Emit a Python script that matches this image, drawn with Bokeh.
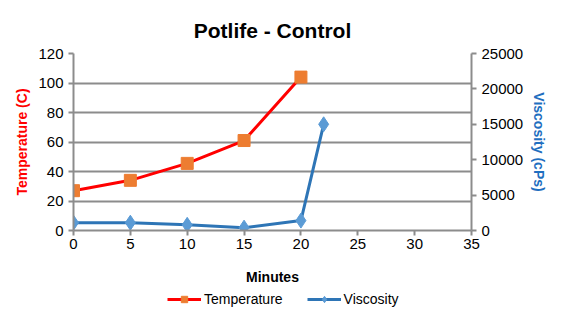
from bokeh.plotting import figure
from bokeh.layouts import column
from bokeh.models import Range1d, LinearAxis, Legend, LegendItem, FixedTicker
from bokeh.embed import file_html
from bokeh.resources import INLINE

# Data
minutes_temp = [0, 5, 10, 15, 20]
temperature = [27, 34, 45.5, 61, 104]
minutes_visc = [0, 5, 10, 15, 20, 22]
viscosity = [1100, 1100, 800, 400, 1400, 15000]
x_ticks = [0, 5, 10, 15, 20, 25, 30, 35]
temp_ticks = [0, 20, 40, 60, 80, 100, 120]
visc_ticks = [0, 5000, 10000, 15000, 20000, 25000]

FONT = "Liberation Sans"
GRID = "#8c8c8c"
TEMP_LINE = dict(line_color="#ff0000", line_width=3)
TEMP_MARK = dict(marker="square", size=12, fill_color="#ed7d31", line_color="#ed7d31")
VISC_LINE = dict(line_color="#2e75b6", line_width=3)
VISC_MARK = dict(marker="diamond", size=15, fill_color="#5b9bd5", line_color="#5b9bd5")

p = figure(width=561, height=287, output_backend="svg", toolbar_location=None,
           x_range=Range1d(0, 35), y_range=Range1d(0, 120),
           min_border_left=73, min_border_right=90, min_border_top=53, min_border_bottom=57,
           title="Potlife - Control")
p.title.align = "center"
p.title.text_font = FONT
p.title.text_font_size = "21px"
p.title.text_font_style = "bold"
p.title.text_color = "black"
p.title.standoff = 24
p.outline_line_color = None
p.background_fill_color = "white"

p.extra_y_ranges = {"visc": Range1d(0, 25000)}

# axes
p.xaxis.ticker = FixedTicker(ticks=x_ticks)
p.yaxis.ticker = FixedTicker(ticks=temp_ticks)
p.xaxis.axis_label = "Minutes"
p.yaxis.axis_label = "Temperature (C)"

raxis = LinearAxis(y_range_name="visc", ticker=FixedTicker(ticks=visc_ticks),
                   axis_label="Viscosity (cPs)")
p.add_layout(raxis, "right")

for ax in [p.xaxis[0], p.yaxis[0], raxis]:
    ax.axis_line_color = GRID
    ax.axis_line_width = 2
    ax.major_tick_line_color = GRID
    ax.major_tick_line_width = 2
    ax.major_tick_out = 5
    ax.major_tick_in = 0
    ax.minor_tick_line_color = None
    ax.major_label_text_font = FONT
    ax.major_label_text_font_size = "15px"
    ax.major_label_text_color = "black"
    ax.axis_label_text_font = FONT
    ax.axis_label_text_font_style = "bold"
    ax.axis_label_text_font_size = "14px"

p.xaxis[0].major_label_standoff = 3
p.xaxis[0].axis_label_standoff = 17
p.yaxis[0].axis_label_text_color = "#ff0000"
raxis.axis_label_text_color = "#1f6fc0"
p.xaxis[0].axis_label_text_color = "black"

p.xgrid.grid_line_color = None
p.ygrid.grid_line_color = GRID
p.ygrid.grid_line_width = 2
p.ygrid.ticker = FixedTicker(ticks=temp_ticks)

# series
p.line(minutes_temp, temperature, **TEMP_LINE)
p.scatter(minutes_temp, temperature, **TEMP_MARK)
p.line(minutes_visc, viscosity, y_range_name="visc", **VISC_LINE)
p.scatter(minutes_visc, viscosity, y_range_name="visc", **VISC_MARK)

# legend strip below the chart (same series, drawn out of view, only for the legend)
q = figure(width=561, height=24, output_backend="svg", toolbar_location=None,
           x_range=Range1d(1000, 1001), y_range=Range1d(1000, 1001),
           x_axis_type=None, y_axis_type=None,
           min_border_left=0, min_border_right=0, min_border_top=0, min_border_bottom=0)
q.outline_line_color = None
q.grid.visible = False
tl = q.line(minutes_temp, temperature, **TEMP_LINE)
ts = q.scatter(minutes_temp, temperature, **TEMP_MARK)
vl = q.line(minutes_visc, viscosity, **VISC_LINE)
vs = q.scatter(minutes_visc, viscosity, **VISC_MARK)

legend = Legend(items=[LegendItem(label="Temperature", renderers=[tl, ts]),
                       LegendItem(label="Viscosity", renderers=[vl, vs])],
                orientation="horizontal", location=(94, 4))
legend.label_text_font = FONT
legend.label_text_font_size = "14px"
legend.label_text_color = "black"
legend.border_line_color = None
legend.background_fill_alpha = 0
legend.glyph_width = 34
legend.glyph_height = 16
legend.label_height = 16
legend.spacing = 24
legend.padding = 0
legend.margin = 0
legend.label_standoff = 3
q.add_layout(legend, "center")

open("out.html", "w").write(file_html(column(p, q), INLINE))
